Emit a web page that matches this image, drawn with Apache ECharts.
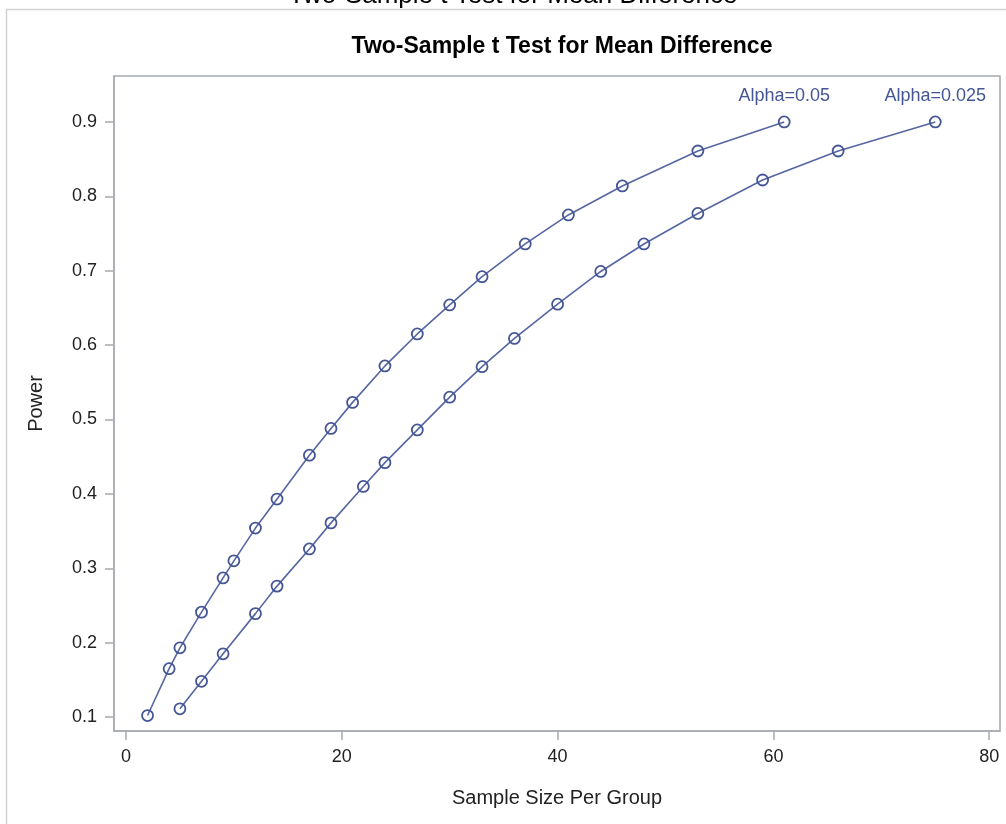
<!DOCTYPE html>
<html>
<head>
<meta charset="utf-8">
<script src="https://cdn.jsdelivr.net/npm/echarts@6/dist/echarts.min.js"></script>
<style>
html,body{margin:0;padding:0;background:#fff;}
#chart{width:1006px;height:824px;}
</style>
</head>
<body>
<div id="chart"></div>
<script>
// Data
const sizeAlpha05 = [2,4,5,7,9,10,12,14,17,19,21,24,27,30,33,37,41,46,53,61];
const powerAlpha05 = [0.102,0.165,0.193,0.241,0.287,0.310,0.354,0.393,0.452,0.488,0.523,0.572,0.615,0.654,0.692,0.736,0.775,0.814,0.861,0.900];
const sizeAlpha025 = [5,7,9,12,14,17,19,22,24,27,30,33,36,40,44,48,53,59,66,75];
const powerAlpha025 = [0.111,0.148,0.185,0.239,0.276,0.326,0.361,0.410,0.442,0.486,0.530,0.571,0.609,0.655,0.699,0.736,0.777,0.822,0.861,0.900];
const seriesNames = ["Alpha=0.05", "Alpha=0.025"];
const xTicks = [0,20,40,60,80];
const yTicks = [0.1,0.2,0.3,0.4,0.5,0.6,0.7,0.8,0.9];
const pageTitle = "Two-Sample t Test for Mean Difference";
const chartTitle = "Two-Sample t Test for Mean Difference";
const xName = "Sample Size Per Group";
const yName = "Power";

const FONT = "'Liberation Sans', Arial, sans-serif";
const AXIS = "#a7abaf";
const BLUE = "#445694";

function makeSeries(name, xs, ys) {
  const last = xs.length - 1;
  return {
    name: name,
    type: 'line',
    data: xs.map((x, i) => {
      const d = { value: [x, ys[i]] };
      if (i === last) {
        d.label = {
          show: true, position: 'top', distance: 11,
          formatter: name, color: BLUE, fontSize: 18, fontFamily: FONT
        };
      }
      return d;
    }),
    symbol: 'circle',
    symbolSize: 11,
    showAllSymbol: true,
    lineStyle: { color: '#5566a2', width: 1.6 },
    itemStyle: { color: 'rgba(255,255,255,0)', borderColor: BLUE, borderWidth: 1.8 },
    emphasis: { disabled: true },
    animation: false
  };
}

const chart = echarts.init(document.getElementById('chart'), null, { renderer: 'canvas' });
chart.setOption({
  animation: false,
  backgroundColor: '#ffffff',
  title: {
    text: chartTitle,
    left: 557, top: 30, textAlign: 'center',
    textStyle: { fontFamily: FONT, fontWeight: 'bold', fontSize: 23, color: '#000' }
  },
  graphic: [
    {
      type: 'rect', silent: true,
      shape: { x: 6.5, y: 9.5, width: 1020, height: 840 },
      style: { fill: 'none', stroke: '#d2d2d2', lineWidth: 1.5 }
    },
    {
      type: 'text', silent: true,
      x: 513, y: 9,
      style: {
        text: pageTitle, fill: '#000', font: "26px 'Liberation Sans', Arial, sans-serif",
        textAlign: 'center', textVerticalAlign: 'bottom'
      }
    }
  ],
  grid: {
    left: 114, top: 76, right: 6, bottom: 93,
    show: true, borderColor: AXIS, borderWidth: 1.5, backgroundColor: 'transparent',
    containLabel: false
  },
  xAxis: {
    type: 'value',
    min: -1.11, max: 81.0,
    name: xName, nameLocation: 'middle', nameGap: 57,
    nameTextStyle: { fontFamily: FONT, fontSize: 20, color: '#222' },
    axisLine: { show: true, onZero: false, lineStyle: { color: AXIS, width: 1.5 } },
    axisTick: { show: true, inside: false, length: 9, lineStyle: { color: AXIS, width: 1.5 }, customValues: xTicks },
    axisLabel: { fontFamily: FONT, fontSize: 18, color: '#222', margin: 17, customValues: xTicks },
    splitLine: { show: false }
  },
  yAxis: {
    type: 'value',
    min: 0.0812, max: 0.9618,
    name: yName, nameLocation: 'middle', nameGap: 68, nameRotate: 90,
    nameTextStyle: { fontFamily: FONT, fontSize: 20, color: '#222' },
    axisLine: { show: true, onZero: false, lineStyle: { color: AXIS, width: 1.5 } },
    axisTick: { show: true, inside: false, length: 9, lineStyle: { color: AXIS, width: 1.5 }, customValues: yTicks },
    axisLabel: { fontFamily: FONT, fontSize: 18, color: '#222', margin: 17, customValues: yTicks,
      formatter: v => v.toFixed(1) },
    splitLine: { show: false }
  },
  series: [
    makeSeries(seriesNames[0], sizeAlpha05, powerAlpha05),
    makeSeries(seriesNames[1], sizeAlpha025, powerAlpha025)
  ]
});
</script>
</body>
</html>
